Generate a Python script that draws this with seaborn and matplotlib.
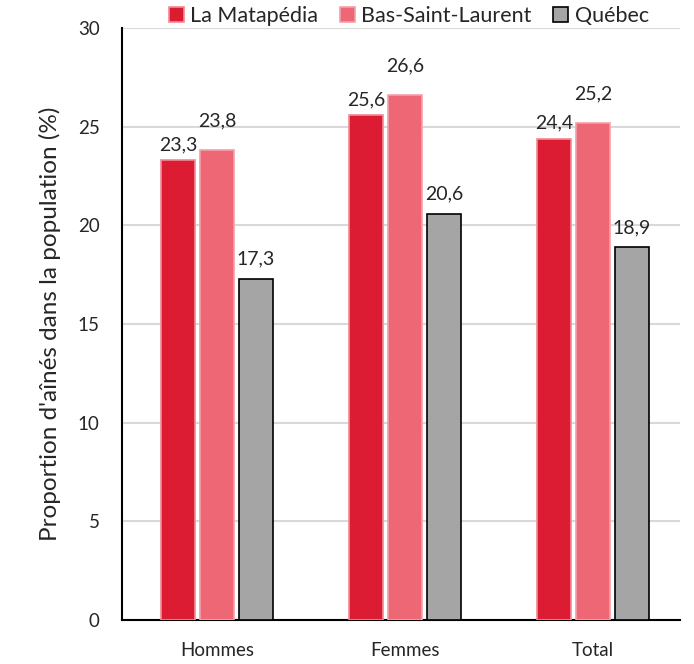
import matplotlib
matplotlib.use("Agg")
import matplotlib.pyplot as plt
import seaborn as sns
import pandas as pd

categories = ["Hommes", "Femmes", "Total"]
series = ["La Matapédia", "Bas-Saint-Laurent", "Québec"]
matapedia = [23.3, 25.6, 24.4]
bsl = [23.8, 26.6, 25.2]
quebec = [17.3, 20.6, 18.9]
yticks = [0, 5, 10, 15, 20, 25, 30]

colors = ["#DC1C32", "#EE6775", "#A5A5A5"]
edges = ["#F28A96", "#F3A0A9", "#000000"]
label_offsets = [5, 15, 8]

rows = []
for s, vals in zip(series, [matapedia, bsl, quebec]):
    for c, v in zip(categories, vals):
        rows.append({"cat": c, "series": s, "value": v})
df = pd.DataFrame(rows)

sns.set_style("white")
plt.rcParams["font.family"] = ["Lato", "DejaVu Sans"]

fig = plt.figure(figsize=(6.94, 6.64), dpi=100)
ax = fig.add_axes([0.1758, 0.0663, 0.8042, 0.8915])

sns.barplot(data=df, x="cat", y="value", hue="series", order=categories,
            hue_order=series, palette=colors, width=0.62, gap=0.13,
            ax=ax, legend=True, saturation=1)

for i, cont in enumerate(ax.containers):
    for p in cont:
        p.set_edgecolor(edges[i])
        p.set_linewidth(1.2)
        p.set_zorder(3)
    ax.bar_label(cont, labels=[f"{v:.1f}".replace(".", ",") for v in cont.datavalues],
                 padding=label_offsets[i], fontsize=14)

ax.set_ylim(0, 30)
ax.set_xlim(-0.505, 2.463)
ax.set_yticks(yticks)
ax.set_yticklabels([str(t) for t in yticks], fontsize=13.5)
ax.tick_params(axis="y", length=0, pad=16)
ax.tick_params(axis="x", length=0, pad=16, labelsize=13.5)
ax.yaxis.grid(True, color="#D9D9D9", linewidth=1.5, zorder=0)
ax.set_axisbelow(True)
for side in ["top", "right"]:
    ax.spines[side].set_visible(False)
for side in ["left", "bottom"]:
    ax.spines[side].set_color("black")
    ax.spines[side].set_linewidth(1.5)
ax.set_xlabel("")
ax.set_ylabel("Proportion d'aînés dans la population (%)", fontsize=17.5, labelpad=12)

handles, labels = ax.get_legend_handles_labels()
for h, e in zip(handles, edges):
    h.set_edgecolor(e)
    h.set_linewidth(1.2)
ax.legend(handles, labels, loc="center", bbox_to_anchor=(0.514, 1.02), ncol=3,
          frameon=False, fontsize=15.5, handlelength=0.7, handleheight=0.7,
          handletextpad=0.3, columnspacing=1.0, borderaxespad=0, borderpad=0)

fig.savefig("out.png", dpi=100)
